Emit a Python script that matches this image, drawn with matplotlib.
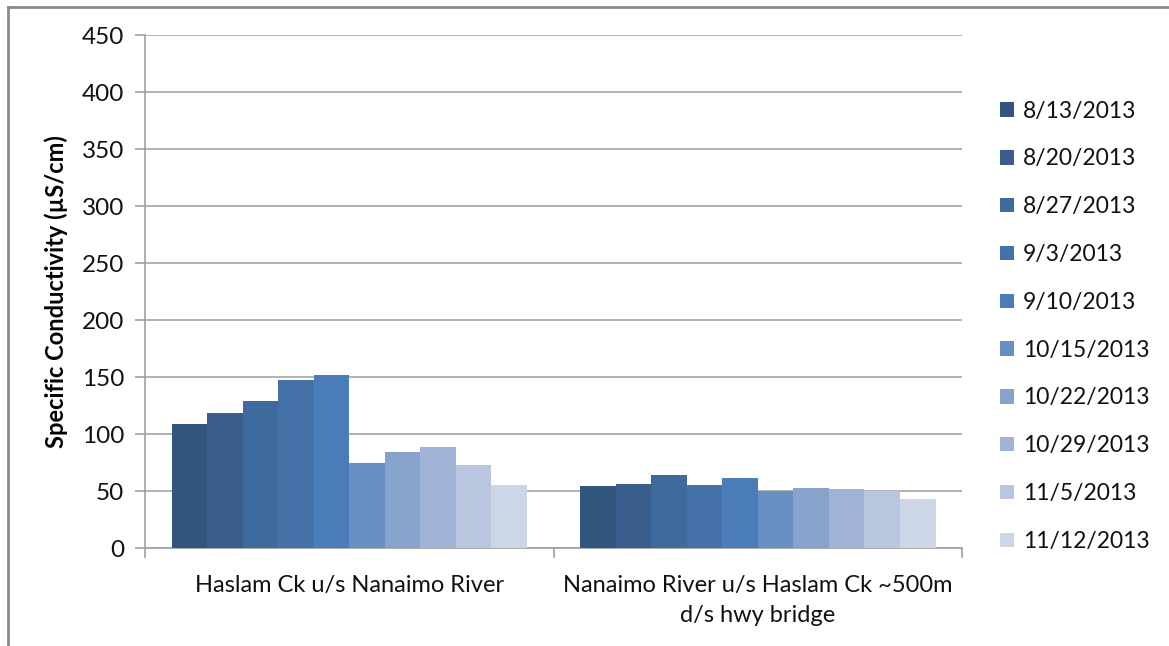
import matplotlib.pyplot as plt
import numpy as np
from matplotlib.lines import Line2D

plt.rcParams['font.family'] = ['Lato', 'DejaVu Sans']

# data
sites = ["Haslam Ck u/s Nanaimo River", "Nanaimo River u/s Haslam Ck ~500m\nd/s hwy bridge"]
dates = ["8/13/2013", "8/20/2013", "8/27/2013", "9/3/2013", "9/10/2013",
         "10/15/2013", "10/22/2013", "10/29/2013", "11/5/2013", "11/12/2013"]
haslam = [109, 118, 129, 147, 152, 75, 84, 89, 73, 55]
nanaimo = [54, 56, 64, 55, 61, 50, 53, 52, 50, 43]
colors = ["#32557e", "#3a5e8c", "#3f6a9d", "#4371a8", "#4a7db8",
          "#678fc4", "#87a2cb", "#a0b3d6", "#b9c6df", "#ccd6e7"]

fig = plt.figure(figsize=(11.69, 6.46), dpi=100)
ax = fig.add_axes([0.124, 0.1517, 0.699, 0.7941])

n = len(dates)
width = 0.87 / n
x = np.arange(len(sites))
for i, d in enumerate(dates):
    vals = [haslam[i], nanaimo[i]]
    ax.bar(x - 0.435 + width * (i + 0.5), vals, width, color=colors[i],
           label=d, zorder=3)

ax.set_xlim(-0.5, 1.5)
ax.set_ylim(0, 450)
ax.set_yticks(range(0, 451, 50))
ax.grid(axis="y", color="#a6a6a6", linewidth=1.2, zorder=0)
for s in ["top", "right"]:
    ax.spines[s].set_visible(False)
for s in ["left", "bottom"]:
    ax.spines[s].set_color("#a0a0a0")
    ax.spines[s].set_linewidth(1.2)
ax.tick_params(axis="y", colors="#a0a0a0", labelcolor="#111111",
               labelsize=17.5, length=7, width=1.2, pad=8)

# category labels, with ticks on the category boundaries
ax.set_xticks([-0.5, 0.5, 1.5])
ax.set_xticklabels([])
ax.tick_params(axis="x", colors="#a0a0a0", length=7, width=1.2)
for xi, name in zip(x, sites):
    ax.text(xi, -0.052, name, transform=ax.get_xaxis_transform(),
            ha="center", va="top", fontsize=17, color="#111111",
            linespacing=1.55)

ax.set_ylabel("Specific Conductivity (µS/cm)", fontsize=17,
              fontweight="bold", color="#000000", labelpad=10)

leg = ax.legend(loc="upper left", bbox_to_anchor=(1.035, 0.89), frameon=False,
                fontsize=16.5, handlelength=0.6, handleheight=0.6,
                handletextpad=0.4, labelspacing=1.17, borderaxespad=0)
for t in leg.get_texts():
    t.set_color("#111111")

# outer chart frame (partially cropped)
fig.add_artist(Line2D([8 / 1169, 8 / 1169], [0, 1 - 7 / 646],
                      transform=fig.transFigure, color="#8a8a8a", lw=2))
fig.add_artist(Line2D([8 / 1169, 1], [1 - 7 / 646, 1 - 7 / 646],
                      transform=fig.transFigure, color="#8a8a8a", lw=2))

fig.savefig("out.png", dpi=100)
